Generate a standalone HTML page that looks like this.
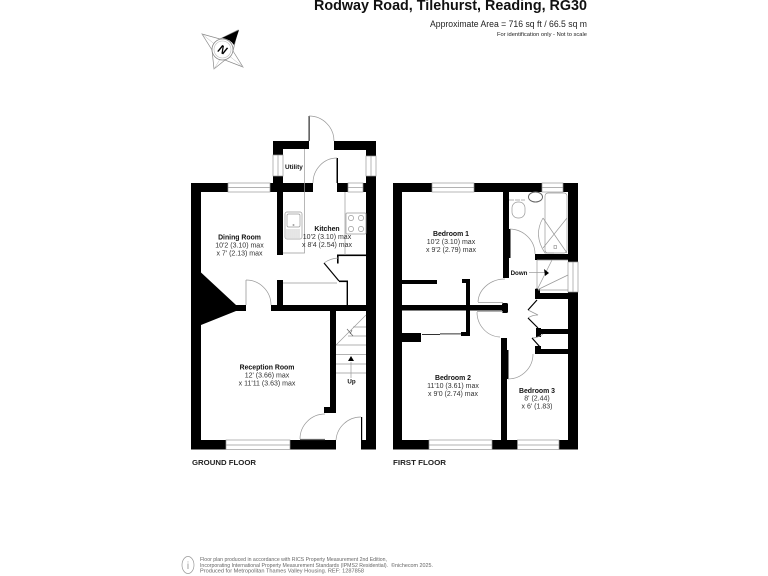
<!DOCTYPE html>
<html><head><meta charset="utf-8"><style>
html,body{margin:0;padding:0;background:#fff;width:768px;height:576px;overflow:hidden}
svg{display:block}
text{font-family:"Liberation Sans",sans-serif;fill:#222}
.n{font-weight:bold;font-size:6.9px;text-anchor:middle;fill:#111}
.d{font-size:7px;text-anchor:middle;fill:#333}
.f{font-weight:bold;font-size:7.2px;fill:#222}
.t{fill:none;stroke:#999;stroke-width:.7}
.g{fill:none;stroke:#777;stroke-width:.6}
.k{fill:none;stroke:#000;stroke-width:1.2}
</style></head><body>
<svg width="768" height="576" viewBox="0 0 768 576" xmlns="http://www.w3.org/2000/svg">
<rect width="768" height="576" fill="#fff"/>
<text x="587" y="10" text-anchor="end" style="font-weight:bold;font-size:14.5px;fill:#111" textLength="273" lengthAdjust="spacingAndGlyphs">Rodway Road, Tilehurst, Reading, RG30</text>
<text x="587" y="27" text-anchor="end" style="font-size:9px" textLength="157" lengthAdjust="spacingAndGlyphs">Approximate Area = 716 sq ft / 66.5 sq m</text>
<text x="587" y="36" text-anchor="end" style="font-size:5px" textLength="90" lengthAdjust="spacingAndGlyphs">For identification only - Not to scale</text>

<!-- compass -->
<g>
<path d="M202 34 L220 39 L238 30 L233 51 L243 67 L225 60 L214 69 L212 50 Z" fill="none" stroke="#888" stroke-width=".7"/>
<path d="M202 34 L243 67 M214 69 L238 30" fill="none" stroke="#bbb" stroke-width=".5"/>
<path d="M222 38 L239 30 L234 45 Q230 39 222 38Z" fill="#000"/>
<circle cx="222.500" cy="49.500" r="10.500" fill="#fff" stroke="#888" stroke-width=".8"/>
<circle cx="222.500" cy="49.500" r="8.500" fill="none" stroke="#bbb" stroke-width=".6"/>
<text x="222.500" y="53.500" text-anchor="middle" transform="rotate(28 222.500 49.500)" style="font-weight:bold;font-style:italic;font-size:11.500px;fill:#000">N</text>
</g>

<!-- GROUND FLOOR walls -->
<g fill="#000">
<rect x="191" y="183" width="37" height="9"/>
<rect x="270" y="183" width="43" height="9"/>
<rect x="337" y="183" width="11" height="9"/>
<rect x="363" y="183" width="13" height="9"/>
<rect x="191" y="183" width="10" height="266"/>
<rect x="366" y="176" width="10" height="273"/>
<rect x="273" y="141" width="10" height="14"/>
<rect x="273" y="176" width="10" height="8"/>
<rect x="273" y="141" width="36" height="8"/>
<rect x="334" y="141" width="42" height="9"/>
<rect x="366" y="141" width="10" height="15"/>
<rect x="277" y="192" width="6" height="63"/>
<rect x="277" y="280" width="6" height="26"/>
<rect x="236" y="305" width="10" height="6"/>
<rect x="271" y="305" width="95" height="6"/>
<rect x="330" y="310" width="6" height="103"/>
<rect x="324" y="407" width="12" height="6"/>
<rect x="191" y="440" width="35" height="9.500"/>
<rect x="290" y="440" width="46" height="9.500"/>
<rect x="361" y="440" width="15" height="9.500"/>
<rect x="361" y="417" width="1.200" height="24"/>
<rect x="336.500" y="158" width="1.500" height="25"/>
<rect x="308.600" y="116" width="1" height="25"/>
<rect x="245.600" y="280" width=".8" height="25" fill="#999"/>
<path d="M201 272.500 L236 305 L236 311 L201 325 Z"/>
<!-- kitchen cupboard -->
<rect x="337" y="254.500" width="29" height="1.600"/>
<rect x="337" y="254.500" width="1.600" height="9"/>
<rect x="339" y="280.500" width="9" height="1.600"/>
<rect x="346.600" y="280.500" width="1.400" height="25"/>
</g>
<path d="M324 263 L339 281" class="k"/>
<path d="M324 263 Q330 258.500 338 258" class="t"/>
<!-- ground windows -->
<g class="t">
<rect x="228" y="183" width="42" height="9"/><path d="M228 187.500H270"/>
<rect x="348" y="183" width="15" height="9"/><path d="M348 187.500H363"/>
<rect x="273" y="155" width="10" height="21"/><path d="M278 155V176"/>
<rect x="366" y="156" width="10" height="20"/><path d="M371 156V176"/>
<rect x="226" y="440" width="64" height="9.500"/><path d="M226 445H290"/>
</g>
<g class="t">
<path d="M309 116 A25 25 0 0 1 334 141"/>
<path d="M313 183 A24 25 0 0 1 337 158"/>
<path d="M246 280 A25 25 0 0 1 271 305"/>
<path d="M325 414 A25 25 0 0 0 300 439"/>
<path d="M361 417 A25 25 0 0 0 336 440"/>
<path d="M300 439.500H325" stroke-width="1.200" stroke="#666"/>
<!-- kitchen -->
<path d="M304.500 149V253H283M345 192V255M283 283H337"/>
<rect x="285" y="212" width="17" height="27" rx="2"/>
<rect x="287" y="214" width="13" height="13" rx="1.500"/>
<path d="M287 229V238M289 229V238M291 229V238M293 229V238M295 229V238M297 229V238M299 229V238" stroke="#aaa" stroke-width=".6"/>
<circle cx="293.500" cy="225" r=".6"/>
<rect x="346" y="213" width="20" height="21" rx="1"/>
<circle cx="351" cy="218" r="2.600"/><circle cx="361" cy="218" r="2.600"/><circle cx="351" cy="229" r="2.600"/><circle cx="361" cy="229" r="2.600"/>
<!-- stairs -->
<path d="M353 327H366M348 336H366M336 345H366M336 354.500H366M336 364H366M336 373H366M336 345L366 315"/>
<path d="M347 329L353 336M352 330L350 334" stroke="#666"/>
<path d="M351 362V378" />
</g>
<path d="M351 356L354 361H348Z" fill="#000"/>
<text x="351.500" y="383.500" class="n" style="font-size:6.200px">Up</text>

<text x="239.500" y="239.500" class="n">Dining Room</text>
<text x="239.500" y="247.500" class="d">10'2 (3.10) max</text>
<text x="239.500" y="255.500" class="d">x 7' (2.13) max</text>
<text x="327" y="231" class="n">Kitchen</text>
<text x="327" y="239" class="d">10'2 (3.10) max</text>
<text x="327" y="247" class="d">x 8'4 (2.54) max</text>
<text x="267" y="369.500" class="n">Reception Room</text>
<text x="267" y="377.500" class="d">12' (3.66) max</text>
<text x="267" y="385.500" class="d">x 11'11 (3.63) max</text>
<text x="285" y="169" class="n" style="text-anchor:start;font-size:6.400px">Utility</text>
<text x="192" y="465" class="f" textLength="64" lengthAdjust="spacingAndGlyphs">GROUND FLOOR</text>

<!-- FIRST FLOOR walls -->
<g fill="#000">
<rect x="393" y="183" width="39" height="9"/>
<rect x="474" y="183" width="68" height="9"/>
<rect x="563" y="183" width="15" height="9"/>
<rect x="393" y="183" width="9" height="266"/>
<rect x="568" y="183" width="10" height="79"/>
<rect x="568" y="292" width="10" height="157"/>
<rect x="503" y="192" width="6" height="86"/>
<rect x="402" y="280" width="35" height="4"/>
<rect x="462" y="279" width="8" height="4"/>
<rect x="466" y="279" width="4" height="57"/>
<rect x="402" y="305" width="103" height="5.500"/>
<rect x="502" y="303" width="6" height="10" rx="1.500"/>
<rect x="402" y="333" width="19" height="9"/>
<rect x="461" y="332" width="8" height="4"/>
<rect x="501" y="338" width="6" height="102"/>
<rect x="507" y="350" width="1.500" height="29"/>
<rect x="509" y="229" width="1.500" height="29"/>
<rect x="535" y="254" width="43" height="6"/>
<rect x="535" y="293" width="43" height="6"/>
<rect x="535" y="289" width="5" height="10"/>
<rect x="536" y="329" width="32" height="5"/>
<rect x="536" y="328" width="5" height="9"/>
<rect x="535" y="349" width="33" height="5"/>
<rect x="535" y="346" width="6" height="8"/>
<rect x="393" y="440" width="36" height="9.500"/>
<rect x="492" y="440" width="25.500" height="9.500"/>
<rect x="559" y="440" width="19" height="9.500"/>
<rect x="422" y="334" width="18" height=".8"/>
<rect x="440" y="333.500" width="21" height=".8"/>
</g>
<g class="t">
<rect x="432" y="183" width="42" height="9"/><path d="M432 187.500H474"/>
<rect x="542" y="183" width="21" height="9"/><path d="M542 187.500H563"/>
<rect x="568" y="262" width="10" height="30"/><path d="M573 262V292"/>
<rect x="429" y="440" width="63" height="9.500"/><path d="M429 445H492"/>
<rect x="517.500" y="440" width="41.500" height="9.500"/><path d="M517.500 445H559"/>
<path d="M510 229 A26 25 0 0 1 535 254"/>
<path d="M505 279 A27 24 0 0 0 478 302"/>
<path d="M478 302.500H503M477 311.500H503"/>
<path d="M477 312 A24 25 0 0 0 500 337"/>
<path d="M508 379 A25 25 0 0 0 533 354"/>
<path d="M528 310 Q534 313 538 315Q532 315 528 318"/>
<path d="M532 338 Q538 338 543 334"/>
<!-- bathroom -->
<rect x="512" y="202" width="13" height="16" rx="6"/>
<path d="M509 200H525" stroke-dasharray="5 1"/>
<ellipse cx="535.500" cy="197" rx="7" ry="5" stroke="#666" stroke-width="1"/>
<rect x="545" y="193" width="22" height="60" rx="3"/>
<path d="M543 218L567 253M567 218L543 248M543 218 Q533 235 545 253H554"/>
<rect x="554" y="245.500" width="2.500" height="3"/>
<!-- stairs -->
<path d="M537 260V290M537 260H568M537 290H568M537 290L552 260M537 290L568 275"/>
<path d="M529 272.500H545"/>
</g>
<g class="k">
<path d="M528 310L537 300M528 318L538 328M532 338L540 347"/>
</g>
<path d="M544 269L549 273L545 276Z" fill="#000"/>
<circle cx="536.500" cy="290" r="1.500" fill="#000"/>
<text x="519" y="275" class="n" style="font-size:6.200px">Down</text>

<text x="451" y="236" class="n">Bedroom 1</text>
<text x="451" y="244" class="d">10'2 (3.10) max</text>
<text x="451" y="252" class="d">x 9'2 (2.79) max</text>
<text x="453" y="380" class="n">Bedroom 2</text>
<text x="453" y="388" class="d">11'10 (3.61) max</text>
<text x="453" y="396" class="d">x 9'0 (2.74) max</text>
<text x="537" y="393" class="n">Bedroom 3</text>
<text x="537" y="400.500" class="d">8' (2.44)</text>
<text x="537" y="408.500" class="d">x 6' (1.83)</text>
<text x="393" y="465" class="f" textLength="53" lengthAdjust="spacingAndGlyphs">FIRST FLOOR</text>

<!-- footer -->
<ellipse cx="188" cy="565" rx="6" ry="8.500" fill="none" stroke="#999" stroke-width=".7"/>
<text x="188" y="569" text-anchor="middle" style="font-size:10px;fill:#999">i</text>
<g style="font-size:5.200px">
<text x="200" y="561.200" style="fill:#666" textLength="187" lengthAdjust="spacingAndGlyphs">Floor plan produced in accordance with RICS Property Measurement 2nd Edition,</text>
<text x="200" y="566.800" style="fill:#666" textLength="188" lengthAdjust="spacingAndGlyphs">Incorporating International Property Measurement Standards (IPMS2 Residential).</text>
<text x="391" y="566.800" style="fill:#666" textLength="42" lengthAdjust="spacingAndGlyphs">©nichecom 2025.</text>
<text x="200" y="572.600" style="fill:#666" textLength="164" lengthAdjust="spacingAndGlyphs">Produced for Metropolitan Thames Valley Housing.   REF: 1287858</text>
</g>
</svg>
</body></html>
